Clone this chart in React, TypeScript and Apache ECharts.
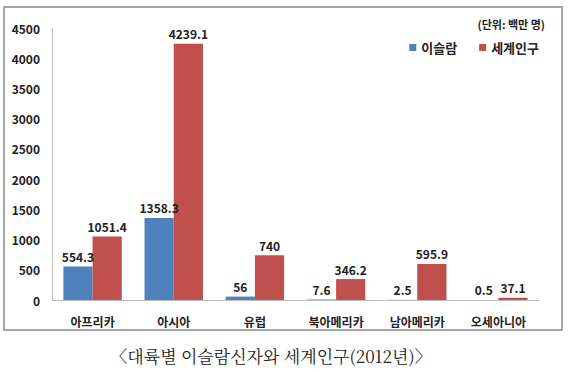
import React, { useEffect, useRef } from "react";
import * as echarts from "echarts";

const categories = ["아프리카", "아시아", "유럽", "북아메리카", "남아메리카", "오세아니아"];
const muslims = [554.3, 1358.3, 56, 7.6, 2.5, 0.5];
const worldPop = [1051.4, 4239.1, 740, 346.2, 595.9, 37.1];
const seriesNames = ["이슬람", "세계인구"];
const unitText = "(단위: 백만 명)";
const captionText = "〈대륙별 이슬람신자와 세계인구(2012년)〉";

const FONT = "'Noto Sans CJK KR', 'Noto Sans', sans-serif";

export default function App() {
  const ref = useRef<HTMLDivElement>(null);
  useEffect(() => {
    if (!ref.current) return;
    const chart = echarts.init(ref.current, undefined, { renderer: "svg" });
    const labelStyle = {
      show: true,
      position: "top" as const,
      distance: 4,
      fontFamily: FONT,
      fontWeight: "bold" as const,
      fontSize: 12,
      color: "#222",
    };
    chart.setOption({
      animation: false,
      backgroundColor: "#fff",
      grid: { left: 52, right: 29, top: 28, bottom: 72 },
      legend: {
        data: seriesNames,
        right: 24,
        top: 36,
        icon: "rect",
        itemWidth: 7,
        itemHeight: 7,
        itemGap: 22,
        textStyle: { fontFamily: FONT, fontWeight: "bold", fontSize: 13, color: "#222" },
      },
      xAxis: {
        type: "category",
        data: categories,
        axisLine: { lineStyle: { color: "#bfbfbf", width: 1 } },
        axisTick: { show: false },
        axisLabel: { fontFamily: FONT, fontWeight: "bold", fontSize: 12, color: "#222", margin: 15 },
      },
      yAxis: {
        type: "value",
        min: 0,
        max: 4500,
        interval: 500,
        axisLine: { show: true, lineStyle: { color: "#bfbfbf", width: 1 } },
        axisTick: { show: false },
        splitLine: { show: false },
        axisLabel: {
          fontFamily: FONT,
          fontWeight: "bold",
          fontSize: 12,
          color: "#222",
          margin: 12,
          formatter: (v: number) => String(v),
        },
      },
      series: [
        {
          name: seriesNames[0],
          type: "bar",
          data: muslims,
          barGap: "0%",
          barCategoryGap: "28%",
          itemStyle: { color: "#4F81BD" },
          label: labelStyle,
        },
        {
          name: seriesNames[1],
          type: "bar",
          data: worldPop,
          barGap: "0%",
          barCategoryGap: "28%",
          itemStyle: { color: "#C0504D" },
          label: labelStyle,
        },
      ],
      graphic: [
        {
          type: "rect",
          shape: { x: 4, y: 7, width: 558, height: 323 },
          style: { fill: "none", stroke: "#a6a6a6", lineWidth: 2 },
          silent: true,
        },
        {
          type: "text",
          x: 545,
          y: 24,
          style: {
            text: unitText,
            fontFamily: FONT,
            fontWeight: "bold",
            fontSize: 11,
            fill: "#222",
            align: "right",
            verticalAlign: "middle",
          },
        },
        {
          type: "text",
          x: 271,
          y: 355,
          style: {
            text: captionText,
            fontFamily: "'Noto Serif CJK KR', 'DejaVu Serif', serif",
            fontSize: 17,
            fill: "#222",
            align: "center",
            verticalAlign: "middle",
          },
        },
      ],
    });
    return () => chart.dispose();
  }, []);
  return (
    <div
      ref={ref}
      style={{ position: "fixed", left: 0, top: 0, width: 568, height: 372, background: "#fff" }}
    />
  );
}
